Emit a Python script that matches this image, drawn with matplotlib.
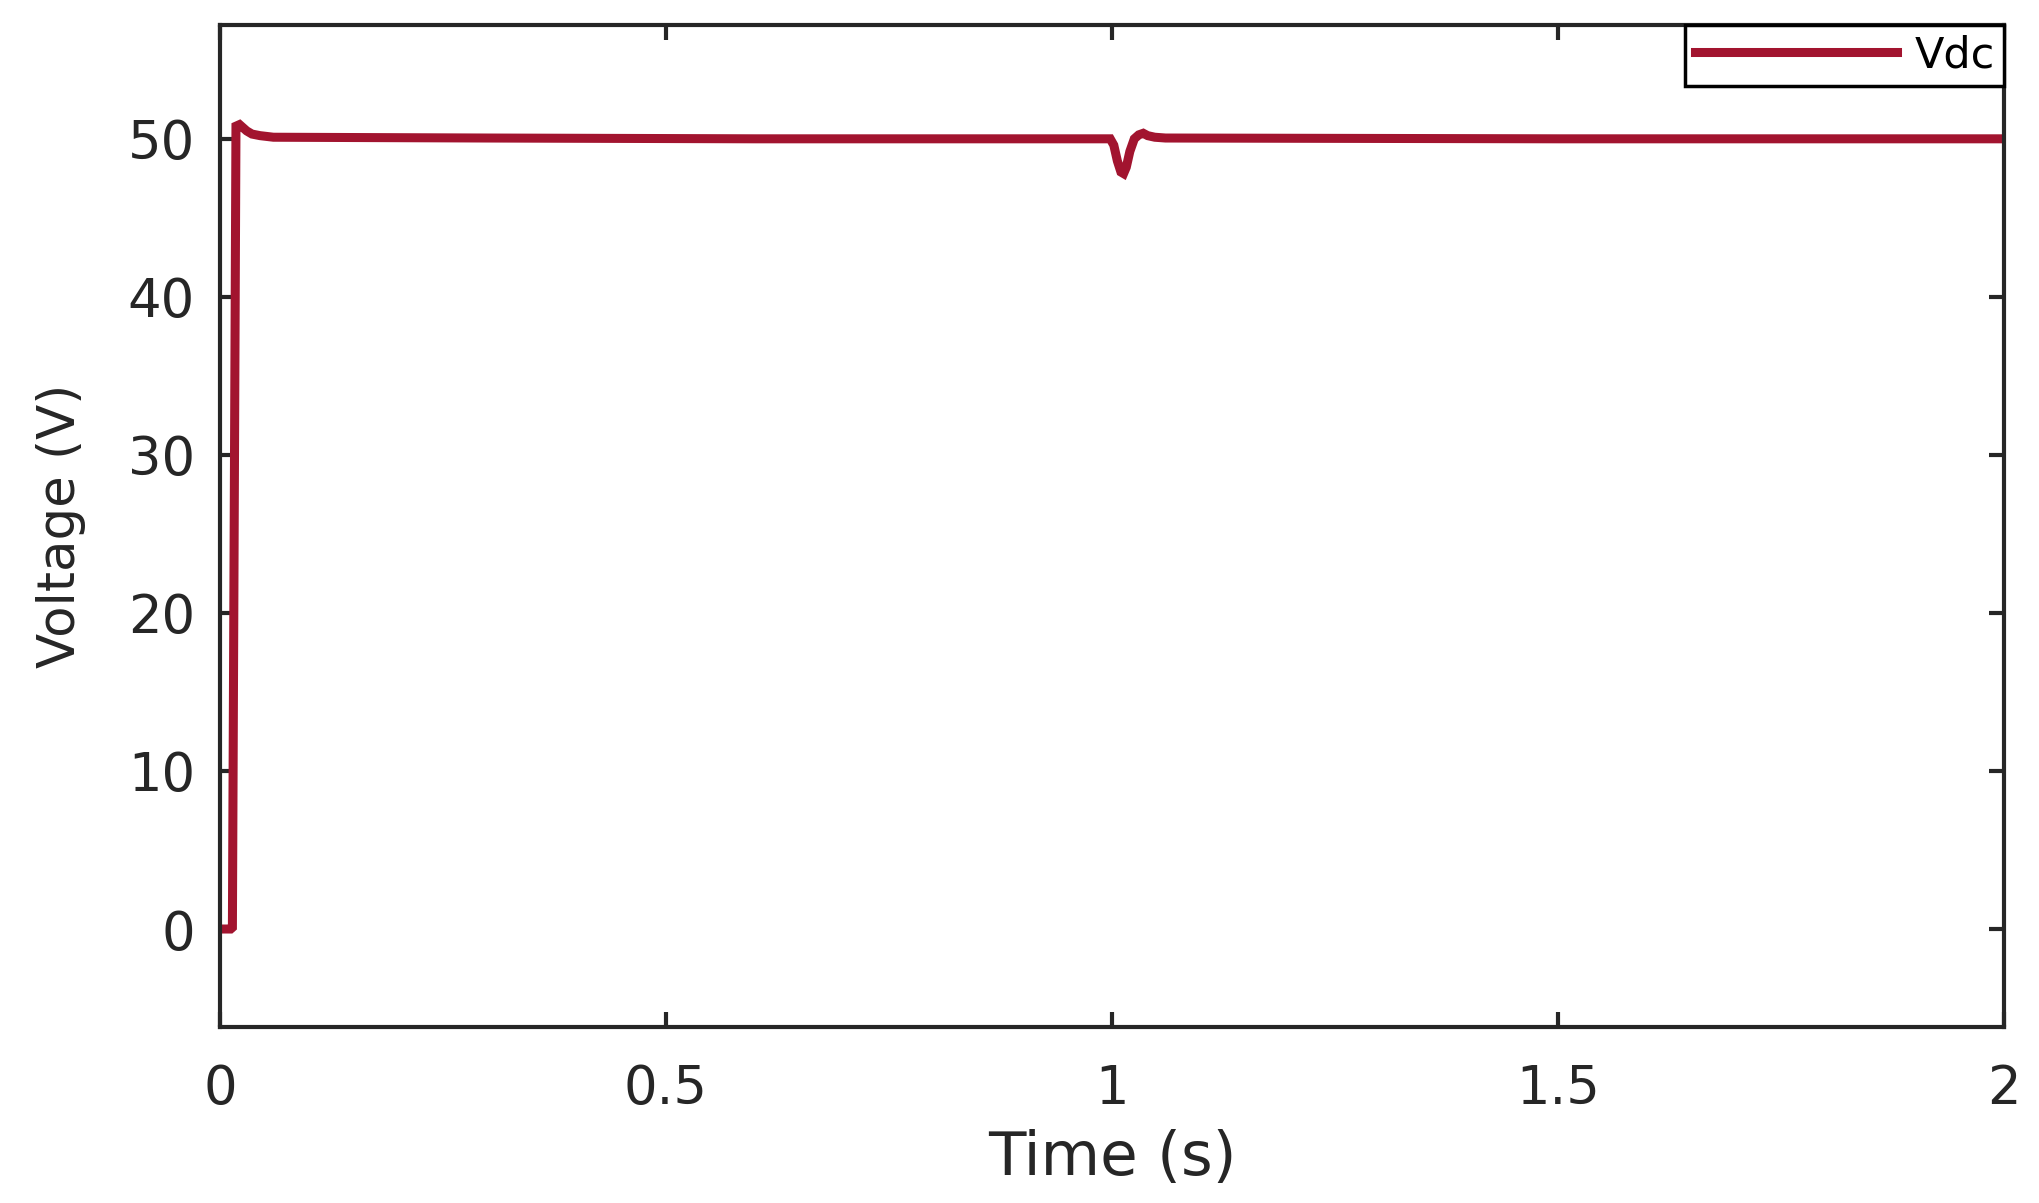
import matplotlib
matplotlib.use("Agg")
import matplotlib.pyplot as plt

# Werte
zeit = [0.0, 0.012, 0.014, 0.018, 0.022, 0.026, 0.030, 0.036, 0.045, 0.060,
        0.300, 0.600, 0.998, 1.002, 1.006, 1.010, 1.013, 1.016, 1.020, 1.025,
        1.030, 1.035, 1.040, 1.048, 1.060, 1.500, 2.000]
vdc = [0.0, 0.0, 0.1, 50.8, 50.9, 50.7, 50.5, 50.3, 50.2, 50.1,
       50.05, 50.0, 50.0, 49.6, 48.6, 47.9, 47.8, 48.2, 49.2, 50.0,
       50.25, 50.35, 50.2, 50.1, 50.05, 50.0, 50.0]

x_ticks = [0, 0.5, 1, 1.5, 2]
x_ticklabels = ["0", "0.5", "1", "1.5", "2"]
y_ticks = [0, 10, 20, 30, 40, 50]
y_ticklabels = ["0", "10", "20", "30", "40", "50"]

farbe = "#A2142F"
achsfarbe = "#262626"

plt.rcParams["font.family"] = ["DejaVu Sans"]

fig = plt.figure(figsize=(20.4, 12.03), dpi=100)
ax = fig.add_axes([0.1078, 0.1463, 0.8746, 0.8329])

ax.plot(zeit, vdc, color=farbe, linewidth=6.5, solid_joinstyle="miter", label="Vdc")

ax.set_xlim(0, 2)
ax.set_ylim(-6.2, 57.2)
ax.set_xticks(x_ticks)
ax.set_xticklabels(x_ticklabels)
ax.set_yticks(y_ticks)
ax.set_yticklabels(y_ticklabels)

ax.tick_params(axis="both", direction="in", top=True, right=True, length=11,
               width=3, colors=achsfarbe, labelsize=38)
ax.tick_params(axis="x", pad=26)
ax.tick_params(axis="y", pad=18)
for s in ax.spines.values():
    s.set_color(achsfarbe)
    s.set_linewidth(3)

ax.set_xlabel("Time (s)", fontsize=44, color=achsfarbe, labelpad=10)
ax.set_ylabel("Voltage (V)", fontsize=37, color=achsfarbe, labelpad=30)

leg = ax.legend(loc="upper right", bbox_to_anchor=(1, 1), borderaxespad=0,
                fontsize=31, handlelength=4.7, handletextpad=0.4,
                borderpad=0.22, fancybox=False, framealpha=1)
leg.get_frame().set_edgecolor("black")
leg.get_frame().set_linewidth(2.5)

fig.savefig("out.png", dpi=100, facecolor="white")
